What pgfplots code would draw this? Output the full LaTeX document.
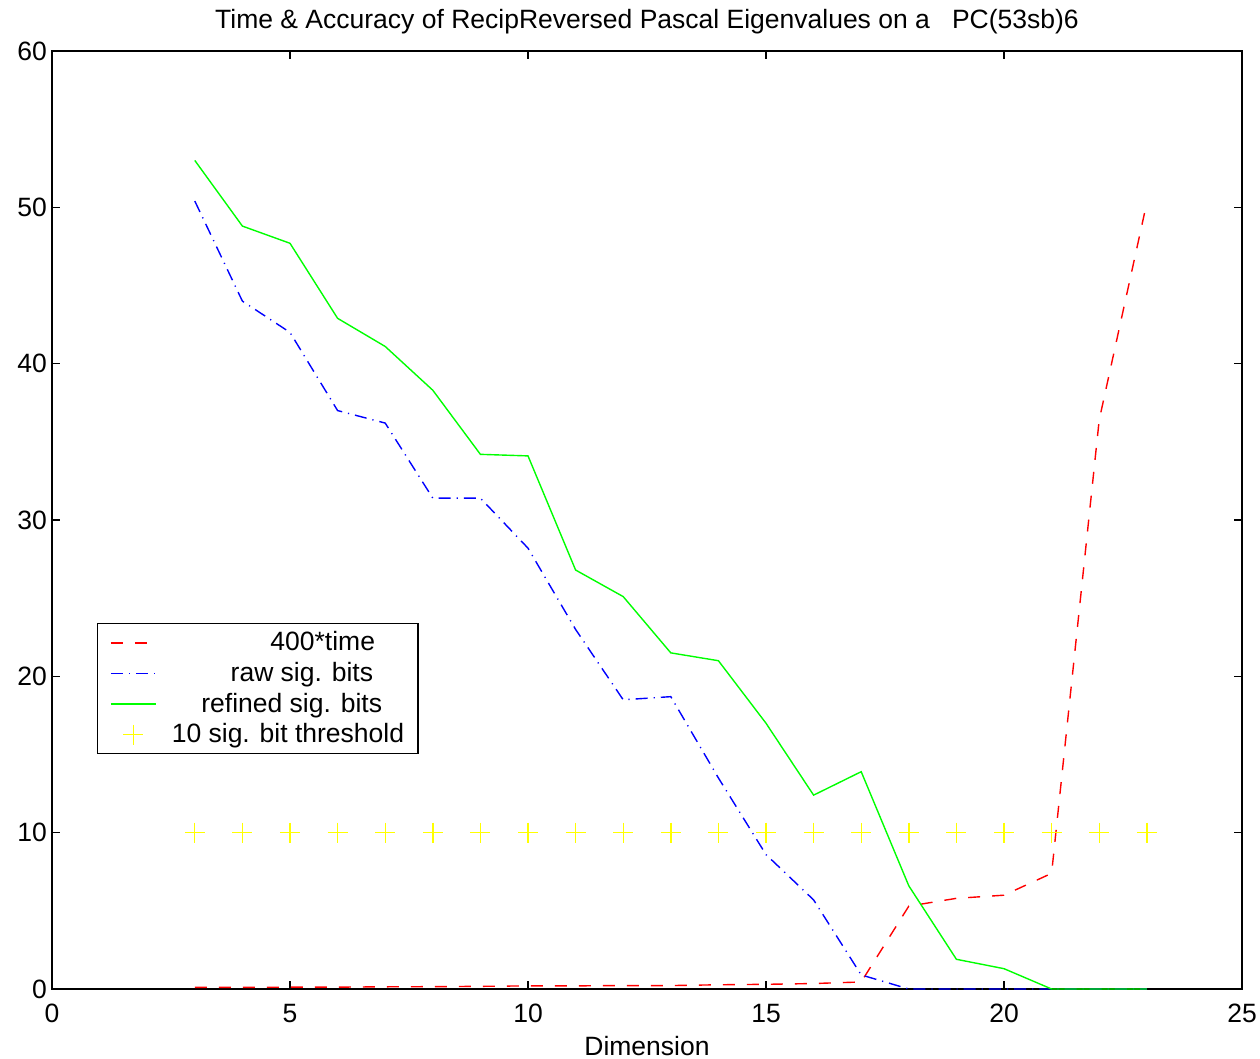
\documentclass[border=0pt]{standalone}
\usepackage{pgfplots}
\pgfplotsset{compat=1.18}
\usepackage{fontspec}
\setmainfont{Liberation Sans}
\definecolor{mred}{RGB}{255,0,0}
\definecolor{mblue}{RGB}{0,0,255}
\definecolor{mgreen}{RGB}{0,255,0}
\definecolor{myellow}{RGB}{255,255,0}
\begin{document}
\begin{tikzpicture}
\begin{axis}[
  scale only axis,
  width=595bp, height=469bp,
  xmin=0, xmax=25, ymin=0, ymax=60,
  xtick={0,5,...,25}, ytick={0,10,...,60},
  tick align=inside, major tick length=4pt,
  xtick pos=both, ytick pos=both,
  axis line style={line width=0.6pt},
  every tick/.style={line width=0.6pt,black},
  /pgf/number format/assume math mode=true,
  tick label style={font=\fontsize{13.3}{15}\selectfont},
  yticklabel style={xshift=1bp},
  xticklabel style={yshift=-4bp},
  xlabel={Dimension},
  xlabel style={font=\fontsize{13.3}{15}\selectfont, yshift=0bp},
  title={Time \& Accuracy of RecipReversed Pascal Eigenvalues on a\ \ \ PC(53sb)6},
  title style={font=\fontsize{13.3}{15}\selectfont, yshift=-1bp},
  legend style={at={(0.038,0.39)}, anchor=north west, draw=black, line width=0.6pt,
    font=\fontsize{13.3}{14}\selectfont, row sep=0.2bp, inner xsep=0bp, inner ysep=2bp,
    nodes={inner xsep=0bp}},
  legend cell align=right,
  legend image code/.code={\path[draw=none,fill=none] (0bp,0bp) rectangle (37bp,0bp);\draw[mark repeat=2,mark phase=2,#1] plot coordinates {(6.5bp,0bp) (17.75bp,0bp) (29bp,0bp)};},
]
\addplot[mred, line width=0.7pt, dash pattern=on 6bp off 6bp] coordinates {
(3,0.1)(4,0.1)(5,0.12)(6,0.12)(7,0.14)(8,0.15)(9,0.17)(10,0.2)(11,0.2)(12,0.22)(13,0.22)(14,0.27)(15,0.3)(16,0.35)(17,0.45)(18,5.3)(19,5.8)(20,6.0)(21,7.4)(22,36.4)(23,50.3)};
\addlegendentry{400*time\hspace*{21.5bp}}
\addplot[mblue, line width=0.7pt, dash pattern=on 6bp off 3bp on 0.6bp off 3bp] coordinates {
(3,50.4)(4,44.0)(5,42.0)(6,37.0)(7,36.2)(8,31.4)(9,31.4)(10,28.2)(11,23.0)(12,18.5)(13,18.7)(14,13.5)(15,8.6)(16,5.7)(17,0.9)(18,0.0)(19,0)(20,0)(21,0)(22,0)(23,0)};
\addlegendentry{raw sig. bits\hspace*{22.5bp}}
\addplot[mgreen, line width=0.7pt] coordinates {
(3,53.0)(4,48.8)(5,47.7)(6,42.9)(7,41.1)(8,38.3)(9,34.2)(10,34.1)(11,26.8)(12,25.1)(13,21.5)(14,21.0)(15,17.0)(16,12.4)(17,13.9)(18,6.6)(19,1.9)(20,1.3)(21,0)(22,0)(23,0)};
\addlegendentry{refined sig. bits\hspace*{18bp}}
\addplot[only marks, mark=+, mark size=5bp, mark options={myellow, line width=0.7pt}] coordinates {
(3,10)(4,10)(5,10)(6,10)(7,10)(8,10)(9,10)(10,10)(11,10)(12,10)(13,10)(14,10)(15,10)(16,10)(17,10)(18,10)(19,10)(20,10)(21,10)(22,10)(23,10)};
\addlegendentry{10 sig. bit threshold\hspace*{7bp}}
\end{axis}
\pgfresetboundingbox
\path (current axis.south west) ++(-26bp,-35bp) coordinate (bbA);
\path (current axis.north east) ++(9bp,25.5bp) coordinate (bbB);
\useasboundingbox (bbA) rectangle (bbB);
\end{tikzpicture}
\end{document}
